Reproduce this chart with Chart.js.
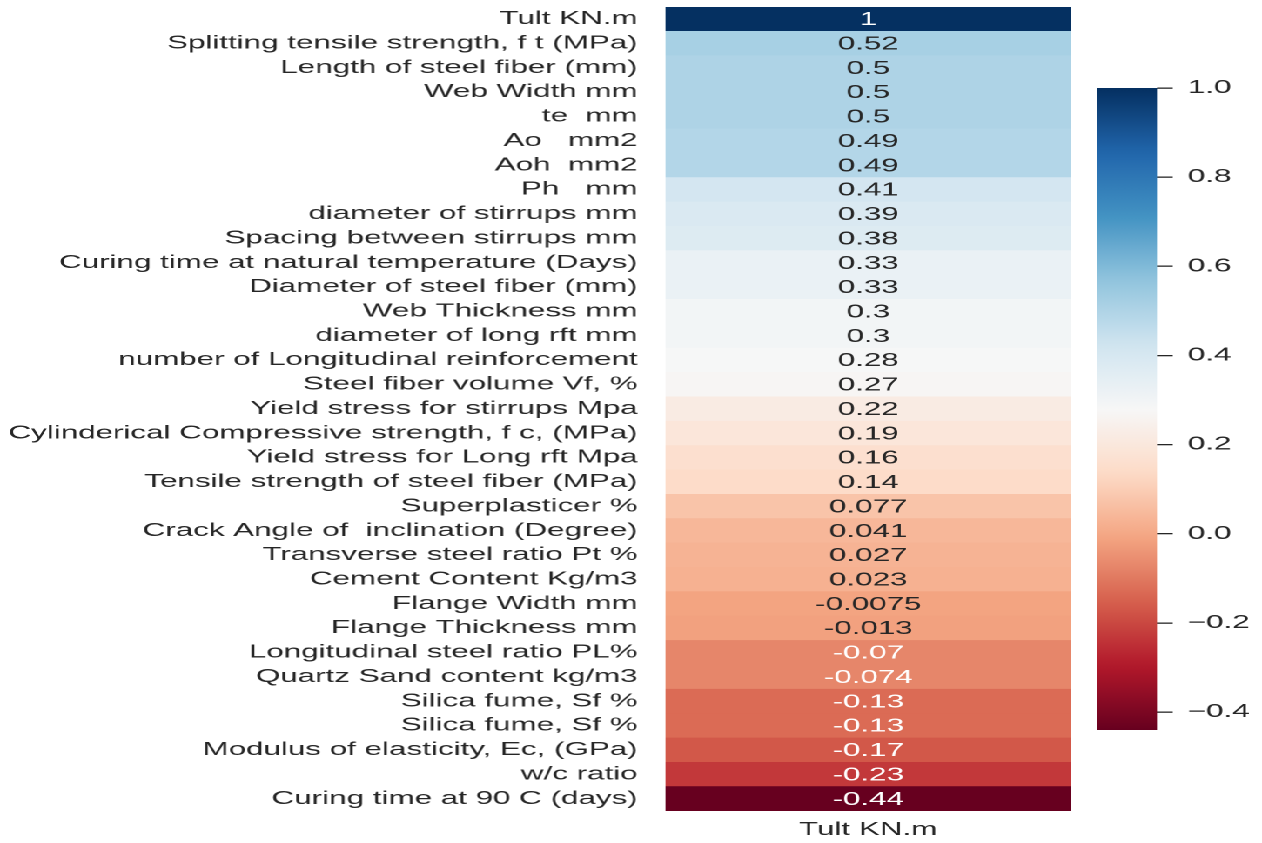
<!DOCTYPE html>
<html>
<head>
<meta charset="utf-8">
<title>Correlation with Tult KN.m</title>
<script src="https://cdn.jsdelivr.net/npm/chart.js@4.4.1/dist/chart.umd.min.js"></script>
<style>
  html, body { margin: 0; padding: 0; background: #ffffff; overflow: hidden; }
  /* the figure is laid out at a narrower logical width and widened horizontally */
  #figure {
    position: absolute; left: 0; top: 0;
    width: 725px; height: 843px;
    transform: scaleX(1.7407); transform-origin: 0 0;
  }
  #heatWrap { position: absolute; left: 0; top: 0; width: 614.7px; height: 843px; }
  #cbarWrap { position: absolute; left: 630.2px; top: 0; width: 94.8px; height: 843px; }
</style>
</head>
<body>
<div id="figure">
  <div id="heatWrap"><canvas id="heat"></canvas></div>
  <div id="cbarWrap"><canvas id="cbar"></canvas></div>
</div>
<script>
// ---- data ----
const columns = ['Tult KN.m'];

const rowLabels = [
  'Tult KN.m',
  'Splitting tensile strength, f t (MPa)',
  'Length of steel \uFB01ber (mm)',
  'Web Width mm',
  'te  mm',
  'Ao   mm2',
  'Aoh  mm2',
  'Ph   mm',
  'diameter of stirrups mm',
  'Spacing between stirrups mm',
  'Curing time at natural temperature (Days)',
  'Diameter of steel \uFB01ber (mm)',
  'Web Thickness mm',
  'diameter of long rft mm',
  'number of Longitudinal reinforcement',
  'Steel fiber volume Vf, %',
  'Yield stress for stirrups Mpa',
  'Cylinderical Compressive strength, f c, (MPa)',
  'Yield stress for Long rft Mpa',
  'Tensile strength of steel fiber (MPa)',
  'Superplasticer %',
  'Crack Angle of  inclination (Degree)',
  'Transverse steel ratio Pt %',
  'Cement Content Kg/m3',
  'Flange Width mm',
  'Flange Thickness mm',
  'Longitudinal steel ratio PL%',
  'Quartz Sand content kg/m3',
  'Silica fume, Sf %',
  'Silica fume, Sf %',
  'Modulus of elasticity, Ec, (GPa)',
  'w/c ratio',
  'Curing time at 90 C (days)'
];

const corrValues = [
  1, 0.52, 0.5, 0.5, 0.5, 0.49, 0.49, 0.41, 0.39, 0.38, 0.33,
  0.33, 0.3, 0.3, 0.28, 0.27, 0.22, 0.19, 0.16, 0.14, 0.077, 0.041,
  0.027, 0.023, -0.0075, -0.013, -0.07, -0.074, -0.13, -0.13, -0.17, -0.23, -0.44
];

const cbTicks = [-0.4, -0.2, 0.0, 0.2, 0.4, 0.6, 0.8, 1.0];

// ---- colour map (RdBu, 256-level lookup) ----
const RDBU = [
  [0x67, 0x00, 0x1f], [0xb2, 0x18, 0x2b], [0xd6, 0x60, 0x4d], [0xf4, 0xa5, 0x82],
  [0xfd, 0xdb, 0xc7], [0xf7, 0xf7, 0xf7], [0xd1, 0xe5, 0xf0], [0x92, 0xc5, 0xde],
  [0x43, 0x93, 0xc3], [0x21, 0x66, 0xac], [0x05, 0x30, 0x61]
];
const vmin = Math.min(...corrValues);
const vmax = Math.max(...corrValues);

function rampRGB(x) {
  const p = Math.max(0, Math.min(1, x)) * (RDBU.length - 1);
  const i = Math.min(RDBU.length - 2, Math.floor(p));
  const f = p - i;
  return RDBU[i].map((c, k) => c + (RDBU[i + 1][k] - c) * f);
}
function valueRGB(v) {
  const t = (v - vmin) / (vmax - vmin);
  const idx = Math.max(0, Math.min(255, Math.floor(t * 256)));
  return rampRGB(idx / 255);
}
function rgbStr(rgb) {
  return 'rgb(' + rgb.map(c => Math.round(c)).join(',') + ')';
}
function luminance(rgb) {
  const lin = rgb.map(c => {
    const s = c / 255;
    return s <= 0.03928 ? s / 12.92 : Math.pow((s + 0.055) / 1.055, 2.4);
  });
  return 0.2126 * lin[0] + 0.7152 * lin[1] + 0.0722 * lin[2];
}

const FONT = { family: '"Liberation Sans", Arial, Helvetica, sans-serif', size: 18 };
const INK = '#262626';

// ---- value labels inside the cells ----
const cellText = {
  id: 'cellText',
  afterDatasetsDraw(chart) {
    const ctx = chart.ctx;
    const meta = chart.getDatasetMeta(0);
    ctx.save();
    ctx.font = FONT.size + 'px ' + FONT.family;
    ctx.textAlign = 'center';
    ctx.textBaseline = 'middle';
    meta.data.forEach((bar, i) => {
      const v = corrValues[i];
      const rgb = valueRGB(v);
      ctx.fillStyle = luminance(rgb) > 0.408 ? INK : '#ffffff';
      const cx = (bar.x + bar.base) / 2;
      ctx.fillText(String(v), cx, bar.y + 1);
    });
    ctx.restore();
  }
};

// ---- heatmap ----
new Chart(document.getElementById('heat'), {
  type: 'bar',
  data: {
    labels: rowLabels,
    datasets: [{
      data: corrValues.map(() => [0, columns.length]),
      backgroundColor: corrValues.map(v => rgbStr(valueRGB(v))),
      borderWidth: 0,
      barPercentage: 1,
      categoryPercentage: 1
    }]
  },
  options: {
    indexAxis: 'y',
    responsive: true,
    maintainAspectRatio: false,
    animation: false,
    devicePixelRatio: 2,
    layout: { padding: { top: 7, right: 0, bottom: 0, left: 0 } },
    plugins: { legend: { display: false }, tooltip: { enabled: false } },
    scales: {
      y: {
        type: 'category',
        grid: { display: false, drawTicks: false },
        border: { display: false },
        ticks: { font: FONT, color: INK, padding: 16, autoSkip: false },
        afterFit(s) {
          s.width = 382;
          s.paddingTop = 0;
          s.paddingBottom = 0;
        }
      },
      x: {
        type: 'linear',
        min: 0,
        max: columns.length,
        grid: { display: false, drawTicks: false },
        border: { display: false },
        afterBuildTicks(s) { s.ticks = columns.map((c, i) => ({ value: i + 0.5 })); },
        ticks: {
          font: FONT, color: INK, padding: 8, maxRotation: 0,
          callback(val, i) { return columns[i]; }
        },
        afterFit(s) {
          s.height = 32;
          s.paddingLeft = 0;
          s.paddingRight = 0;
        }
      }
    }
  },
  plugins: [cellText]
});

// ---- colour bar ----
function barGradient(context) {
  const chart = context.chart;
  const area = chart.chartArea;
  if (!area) return null;
  const y = chart.scales.y;
  const g = chart.ctx.createLinearGradient(0, y.getPixelForValue(vmin), 0, y.getPixelForValue(vmax));
  const n = 64;
  for (let k = 0; k <= n; k++) {
    g.addColorStop(k / n, rgbStr(rampRGB(k / n)));
  }
  return g;
}

new Chart(document.getElementById('cbar'), {
  type: 'bar',
  data: {
    labels: [''],
    datasets: [{
      data: [[vmin, vmax]],
      backgroundColor: barGradient,
      borderWidth: 0,
      barPercentage: 1,
      categoryPercentage: 1
    }]
  },
  options: {
    responsive: true,
    maintainAspectRatio: false,
    animation: false,
    devicePixelRatio: 2,
    layout: { padding: { top: 88, right: 0, bottom: 113, left: 0 } },
    plugins: { legend: { display: false }, tooltip: { enabled: false } },
    scales: {
      x: { display: false },
      y: {
        type: 'linear',
        position: 'right',
        min: vmin,
        max: vmax,
        afterBuildTicks(s) { s.ticks = cbTicks.map(v => ({ value: v })); },
        grid: {
          display: true, drawOnChartArea: false, drawTicks: true,
          tickLength: 9, color: INK, lineWidth: 1.3
        },
        border: { display: false },
        ticks: {
          font: FONT, color: INK, padding: 8.5,
          callback(val) {
            const s = Math.abs(val).toFixed(1);
            return val < -1e-9 ? '\u2212' + s : s;
          }
        },
        afterFit(s) {
          s.width = 60.3;
          s.paddingTop = 0;
          s.paddingBottom = 0;
        }
      }
    }
  }
});
</script>
</body>
</html>
